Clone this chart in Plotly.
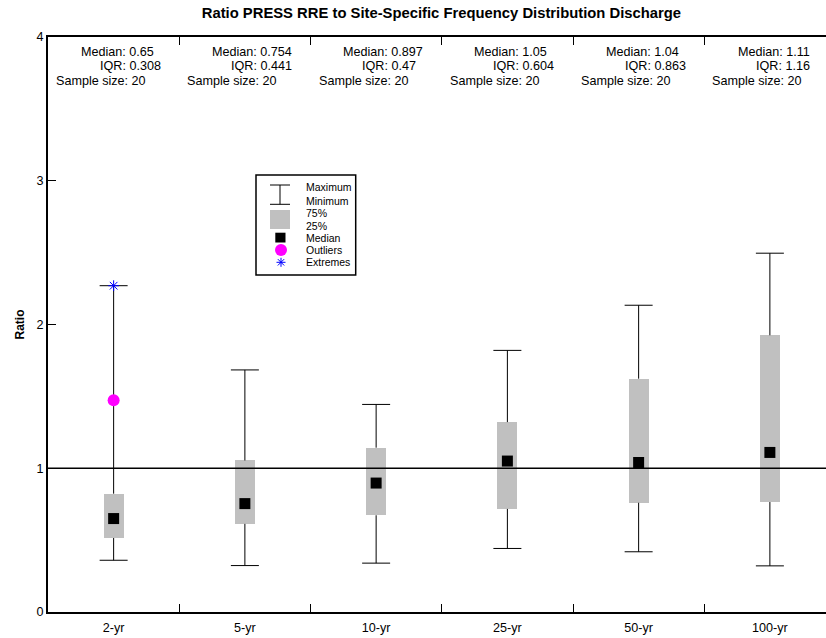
import plotly.graph_objects as go

# ---------------- data ----------------
categories = ["2-yr", "5-yr", "10-yr", "25-yr", "50-yr", "100-yr"]
medians = [0.65, 0.754, 0.897, 1.05, 1.04, 1.11]
iqr = [0.308, 0.441, 0.47, 0.604, 0.863, 1.16]
q1 = [0.515, 0.613, 0.673, 0.717, 0.760, 0.765]
q3 = [0.823, 1.054, 1.143, 1.321, 1.623, 1.925]
whisker_max = [2.27, 1.684, 1.444, 1.820, 2.134, 2.496]
whisker_min = [0.360, 0.323, 0.340, 0.442, 0.419, 0.321]
sample_size = [20, 20, 20, 20, 20, 20]
median_labels = ["0.65", "0.754", "0.897", "1.05", "1.04", "1.11"]
iqr_labels = ["0.308", "0.441", "0.47", "0.604", "0.863", "1.16"]
outlier_cats = ["2-yr"]
outlier_vals = [1.473]
extreme_cats = ["2-yr"]
extreme_vals = [2.27]
y_ticks = [0, 1, 2, 3, 4]
reference_value = 1

FONT = "Liberation Sans, Arial, Helvetica, sans-serif"
W, H = 826, 638
L, T, B = 48, 37, 26
PW = W - L
PH = H - T - B


def px(xp):
    return (xp - L) / PW


def py(yp):
    return (H - B - yp) / PH


fig = go.Figure()

# boxes (interquartile range)
fig.add_trace(go.Bar(
    x=categories,
    y=[b - a for a, b in zip(q1, q3)],
    base=q1,
    width=0.152,
    marker=dict(color="#C0C0C0", line=dict(width=0)),
    hoverinfo="skip",
))

# whiskers
wx, wy = [], []
for c, a, b, lo, hi in zip(categories, q1, q3, whisker_min, whisker_max):
    wx += [c, c, None, c, c, None]
    wy += [b, hi, None, lo, a, None]
fig.add_trace(go.Scatter(x=wx, y=wy, mode="lines",
                         line=dict(color="black", width=1), hoverinfo="skip"))

# caps
for vals in (whisker_max, whisker_min):
    fig.add_trace(go.Scatter(
        x=categories, y=vals, mode="markers",
        marker=dict(symbol="line-ew", size=20, color="black",
                    line=dict(color="black", width=1)),
        hoverinfo="skip"))

# medians
fig.add_trace(go.Scatter(
    x=categories, y=medians, mode="markers",
    marker=dict(symbol="square", size=11, color="black", line=dict(width=0)),
    hoverinfo="skip"))

# outliers
fig.add_trace(go.Scatter(
    x=outlier_cats, y=outlier_vals, mode="markers",
    marker=dict(symbol="circle", size=12, color="#FF00FF", line=dict(width=0)),
    hoverinfo="skip"))

# extremes
fig.add_trace(go.Scatter(
    x=extreme_cats, y=extreme_vals, mode="markers",
    marker=dict(symbol="asterisk-open", size=9, color="#0000FF",
                line=dict(color="#0000FF", width=1)),
    hoverinfo="skip"))

shapes = []
# reference line at 1
shapes.append(dict(type="line", xref="paper", yref="y", x0=0, x1=1,
                   y0=reference_value, y1=reference_value,
                   line=dict(color="black", width=1.6), layer="above"))

# legend box
shapes.append(dict(type="rect", xref="paper", yref="paper",
                   x0=px(256), x1=px(355.7), y0=py(175), y1=py(275),
                   line=dict(color="black", width=1.5), fillcolor="white",
                   layer="above"))
# I-beam
lk = dict(type="line", xref="paper", yref="paper",
          line=dict(color="black", width=1), layer="above")
shapes.append(dict(lk, x0=px(280), x1=px(280), y0=py(185), y1=py(204.3)))
shapes.append(dict(lk, x0=px(270), x1=px(290), y0=py(185), y1=py(185)))
shapes.append(dict(lk, x0=px(270), x1=px(290), y0=py(204.3), y1=py(204.3)))
# gray box
shapes.append(dict(type="rect", xref="paper", yref="paper",
                   x0=px(270), x1=px(290), y0=py(210), y1=py(229),
                   line=dict(width=0), fillcolor="#C0C0C0", layer="above"))
# median square
shapes.append(dict(type="rect", xref="paper", yref="paper",
                   x0=px(275.3), x1=px(285.5), y0=py(232.7), y1=py(242.5),
                   line=dict(width=0), fillcolor="black", layer="above"))
# outlier circle
shapes.append(dict(type="circle", xref="paper", yref="paper",
                   x0=px(275), x1=px(287), y0=py(244), y1=py(256),
                   line=dict(width=0), fillcolor="#FF00FF", layer="above"))
# asterisk
ax_c, ay_c, r = 281, 262.3, 4.5
d = r * 0.707
bl = dict(type="line", xref="paper", yref="paper",
          line=dict(color="#0000FF", width=1), layer="above")
shapes.append(dict(bl, x0=px(ax_c - r), x1=px(ax_c + r), y0=py(ay_c), y1=py(ay_c)))
shapes.append(dict(bl, x0=px(ax_c), x1=px(ax_c), y0=py(ay_c - r), y1=py(ay_c + r)))
shapes.append(dict(bl, x0=px(ax_c - d), x1=px(ax_c + d), y0=py(ay_c - d), y1=py(ay_c + d)))
shapes.append(dict(bl, x0=px(ax_c - d), x1=px(ax_c + d), y0=py(ay_c + d), y1=py(ay_c - d)))

annotations = []
legend_items = [("Maximum", 187.3), ("Minimum", 200.7), ("75%", 213.3),
                ("25%", 225.7), ("Median", 237.7), ("Outliers", 250),
                ("Extremes", 262.3)]
for txt, yy in legend_items:
    annotations.append(dict(xref="paper", yref="paper", x=px(304), y=py(yy),
                            xanchor="left", yanchor="middle", text=txt,
                            showarrow=False,
                            font=dict(family=FONT, size=10.5, color="black")))

# statistics text at the top of each category
tf = dict(family=FONT, size=12.6, color="black")
for c, m, q, n in zip(categories, median_labels, iqr_labels, sample_size):
    annotations.append(dict(xref="x", yref="y", x=c, y=4, yshift=-(51.8 - T),
                            xshift=49 - 7 * (5 - len(m)), xanchor="right",
                            yanchor="middle", text=f"Median: {m}",
                            showarrow=False, font=tf))
    annotations.append(dict(xref="x", yref="y", x=c, y=4, yshift=-(65.8 - T),
                            xshift=49 - 7 * (5 - len(q)), xanchor="right",
                            yanchor="middle", text=f"IQR: {q}",
                            showarrow=False, font=tf))
    annotations.append(dict(xref="x", yref="y", x=c, y=4, yshift=-(80.8 - T),
                            xshift=-59.5, xanchor="left",
                            yanchor="middle", text=f"Sample size: {n}",
                            showarrow=False, font=tf))

# y axis title
annotations.append(dict(xref="paper", yref="paper", x=px(19), y=0.5,
                        xanchor="center", yanchor="middle", textangle=-90,
                        text="<b>Ratio</b>", showarrow=False,
                        font=dict(family=FONT, size=12, color="black")))

fig.update_layout(
    width=W, height=H,
    margin=dict(l=L, r=0, t=T, b=B, pad=0),
    paper_bgcolor="white", plot_bgcolor="white",
    showlegend=False,
    bargap=0,
    title=dict(text="<b>Ratio PRESS RRE to Site-Specific Frequency Distribution Discharge</b>",
               x=441.4 / W, xanchor="center", xref="container",
               y=1 - 13 / H, yanchor="middle", yref="container",
               font=dict(family=FONT, size=14.8, color="black")),
    shapes=shapes,
    annotations=annotations,
    xaxis=dict(type="category", categoryorder="array", categoryarray=categories,
               range=[-0.5, -0.5 + PW / 131.25], tickson="boundaries",
               ticks="inside", ticklen=8, tickwidth=1, tickcolor="black",
               showline=True, linecolor="black", linewidth=2, mirror="ticks",
               showgrid=False, zeroline=False, ticklabelstandoff=3,
               tickfont=dict(family=FONT, size=12.6, color="black")),
    yaxis=dict(range=[0, 4], tickvals=y_ticks, ticktext=[str(v) for v in y_ticks],
               ticks="inside", ticklen=8, tickwidth=1, tickcolor="black",
               showline=True, linecolor="black", linewidth=2, mirror=False,
               showgrid=False, zeroline=False,
               tickfont=dict(family=FONT, size=12.6, color="black")),
)

fig.write_html("out.html",
               config={"displayModeBar": False},
               post_script="document.body.style.margin='0';"
                           "document.body.style.overflow='hidden';")
